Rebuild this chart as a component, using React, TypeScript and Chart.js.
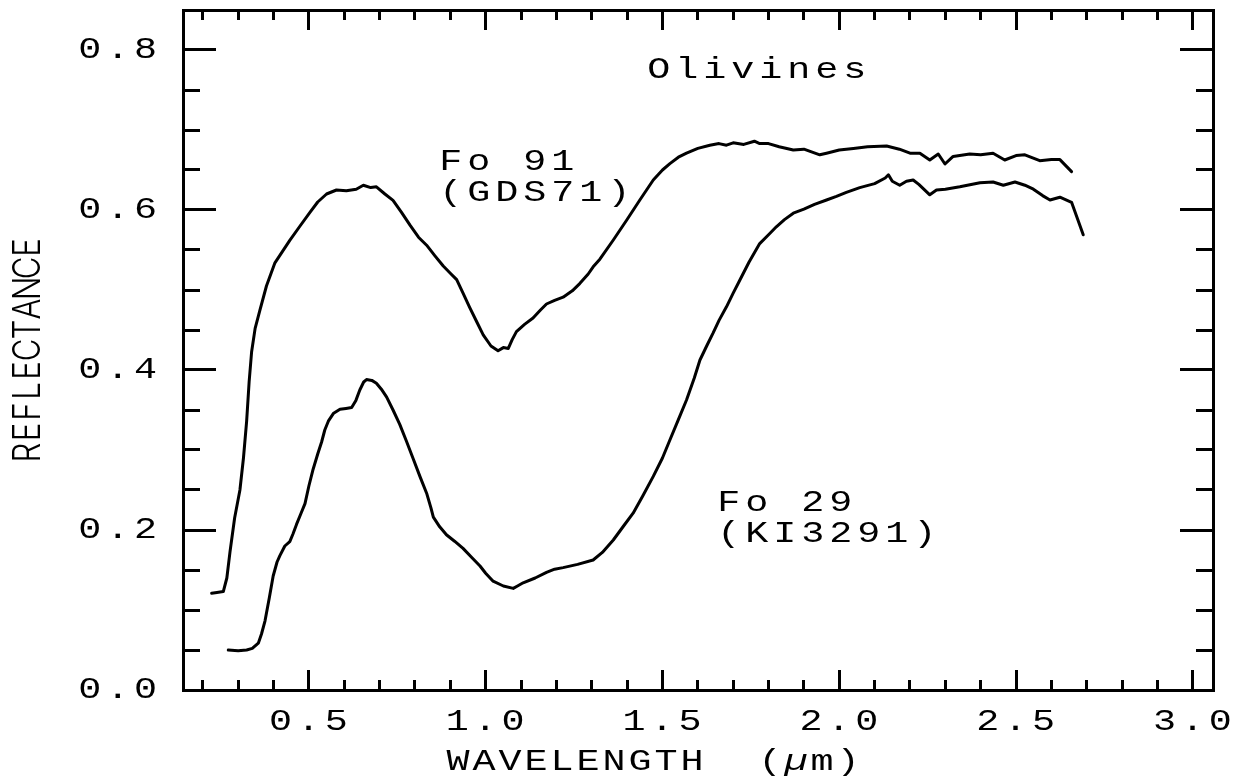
import React, { useEffect, useRef } from 'react';
import { Chart, registerables } from 'chart.js';

Chart.register(...registerables);

// ---- Data ----
const FO91_WAVELENGTH = [
  0.225, 0.240, 0.258, 0.268, 0.277, 0.290, 0.305, 0.315, 0.324, 0.331, 0.338, 0.348, 0.361, 0.380,
  0.404, 0.425, 0.446, 0.475, 0.503, 0.525, 0.550, 0.578, 0.606, 0.634, 0.654, 0.675, 0.691, 0.715,
  0.738, 0.762, 0.786, 0.810, 0.833, 0.856, 0.880, 0.900, 0.918, 0.935, 0.955, 0.975, 0.993, 1.015,
  1.035, 1.050, 1.064, 1.075, 1.087, 1.110, 1.134, 1.155, 1.172, 1.195, 1.219, 1.245, 1.266, 1.290,
  1.304, 1.323, 1.361, 1.399, 1.436, 1.474, 1.500, 1.521, 1.545, 1.568, 1.600, 1.634, 1.660, 1.681,
  1.700, 1.730, 1.760, 1.775, 1.800, 1.830, 1.870, 1.900, 1.945, 1.964, 2.000, 2.040, 2.080, 2.134,
  2.170, 2.200, 2.228, 2.256, 2.280, 2.299, 2.322, 2.369, 2.400, 2.435, 2.468, 2.500, 2.525, 2.567,
  2.600, 2.624, 2.657,
];
const FO91_REFLECTANCE = [
  0.121, 0.122, 0.123, 0.140, 0.173, 0.215, 0.250, 0.290, 0.336, 0.385, 0.4225, 0.452, 0.474, 0.505,
  0.534, 0.548, 0.562, 0.580, 0.597, 0.610, 0.620, 0.625, 0.624, 0.626, 0.631, 0.628, 0.629, 0.620,
  0.612, 0.597, 0.581, 0.566, 0.556, 0.543, 0.530, 0.521, 0.513, 0.497, 0.478, 0.460, 0.444, 0.430,
  0.424, 0.428, 0.427, 0.438, 0.448, 0.457, 0.465, 0.475, 0.4825, 0.487, 0.491, 0.499, 0.508, 0.520,
  0.529, 0.5385, 0.5625, 0.5875, 0.6125, 0.6375, 0.650, 0.658, 0.666, 0.671, 0.677, 0.681, 0.683, 0.681,
  0.684, 0.682, 0.686, 0.683, 0.683, 0.679, 0.675, 0.676, 0.669, 0.671, 0.675, 0.677, 0.679, 0.680,
  0.676, 0.671, 0.671, 0.6625, 0.670, 0.6575, 0.667, 0.670, 0.669, 0.671, 0.6625, 0.668, 0.669, 0.6616,
  0.663, 0.663, 0.648,
];

const FO29_WAVELENGTH = [
  0.272, 0.300, 0.324, 0.340, 0.357, 0.366, 0.376, 0.388, 0.399, 0.410, 0.418, 0.432, 0.446, 0.455,
  0.465, 0.477, 0.489, 0.500, 0.512, 0.525, 0.536, 0.545, 0.555, 0.570, 0.588, 0.605, 0.621, 0.633,
  0.644, 0.655, 0.663, 0.678, 0.691, 0.705, 0.720, 0.738, 0.757, 0.776, 0.795, 0.814, 0.833, 0.845,
  0.852, 0.870, 0.889, 0.912, 0.936, 0.960, 0.984, 1.000, 1.021, 1.050, 1.078, 1.090, 1.106, 1.140,
  1.172, 1.195, 1.219, 1.260, 1.304, 1.330, 1.361, 1.390, 1.417, 1.445, 1.474, 1.500, 1.521, 1.545,
  1.568, 1.590, 1.606, 1.625, 1.643, 1.660, 1.681, 1.700, 1.719, 1.745, 1.775, 1.800, 1.822, 1.845,
  1.870, 1.900, 1.930, 1.964, 1.992, 2.020, 2.058, 2.100, 2.130, 2.139, 2.150, 2.171, 2.190, 2.209,
  2.225, 2.256, 2.275, 2.300, 2.341, 2.398, 2.435, 2.464, 2.497, 2.525, 2.549, 2.575, 2.596, 2.624,
  2.657, 2.690,
];
const FO29_REFLECTANCE = [
  0.050, 0.049, 0.050, 0.052, 0.0585, 0.070, 0.0865, 0.115, 0.1425, 0.160, 0.168, 0.180, 0.1855, 0.195,
  0.207, 0.220, 0.233, 0.255, 0.276, 0.295, 0.310, 0.325, 0.336, 0.346, 0.351, 0.352, 0.353, 0.362,
  0.375, 0.385, 0.388, 0.387, 0.3835, 0.376, 0.366, 0.350, 0.332, 0.311, 0.289, 0.267, 0.246, 0.228,
  0.216, 0.204, 0.194, 0.186, 0.177, 0.166, 0.155, 0.146, 0.136, 0.130, 0.127, 0.130, 0.134, 0.140,
  0.147, 0.151, 0.153, 0.157, 0.1625, 0.172, 0.1875, 0.205, 0.221, 0.243, 0.267, 0.290, 0.3125, 0.338,
  0.3625, 0.390, 0.4125, 0.430, 0.446, 0.462, 0.479, 0.496, 0.5125, 0.535, 0.558, 0.569, 0.579, 0.588,
  0.596, 0.601, 0.607, 0.6125, 0.617, 0.622, 0.628, 0.633, 0.640, 0.644, 0.636, 0.631, 0.636, 0.6375,
  0.632, 0.619, 0.625, 0.626, 0.629, 0.634, 0.635, 0.631, 0.635, 0.631, 0.626, 0.618, 0.6125, 0.616,
  0.6096, 0.569,
];

const X_MIN = 0.144;
const X_MAX = 3.057;
const Y_MIN = 0;
const Y_MAX = 0.85;
const X_MAJOR_TICKS = [0.5, 1.0, 1.5, 2.0, 2.5, 3.0];
const X_MINOR_TICKS = [
  0.2, 0.3, 0.4, 0.5, 0.6, 0.7, 0.8, 0.9, 1.0, 1.1, 1.2, 1.3, 1.4, 1.5, 1.6, 1.7, 1.8, 1.9, 2.0,
  2.1, 2.2, 2.3, 2.4, 2.5, 2.6, 2.7, 2.8, 2.9, 3.0,
];
const Y_MAJOR_TICKS = [0.0, 0.2, 0.4, 0.6, 0.8];
const Y_MINOR_TICKS = [
  0.05, 0.1, 0.15, 0.2, 0.25, 0.3, 0.35, 0.4, 0.45, 0.5, 0.55, 0.6, 0.65, 0.7, 0.75, 0.8,
];

const X_TITLE = 'WAVELENGTH  (µm)';
const Y_TITLE = 'REFLECTANCE';
const ANNOTATION_TEXTS = ['Olivines', 'Fo 91', '(GDS71)', 'Fo 29', '(KI3291)'];
const ANNOTATION_X = [1.45, 0.862, 0.862, 1.648, 1.648];
const ANNOTATION_Y = [0.775, 0.66, 0.621, 0.234, 0.195];

// ---- Styling ----
const FONT_FAMILY = "'Liberation Mono', 'DejaVu Sans Mono', monospace";
const TITLE_FONT_FAMILY = "Inter, 'DejaVu Sans', sans-serif";
const TICK_FONT_SIZE = 30;
const TEXT_STRETCH = 1.28;
const TICK_LETTER_SPACING = 3.8;
const INK = '#000';

const origFillText = CanvasRenderingContext2D.prototype.fillText;

function drawCells(
  ctx: CanvasRenderingContext2D,
  text: string,
  left: number,
  cy: number,
  advance: number,
  font: string,
  stretch: number,
  italicChars = ''
) {
  for (let i = 0; i < text.length; i++) {
    const ch = text[i];
    if (ch === ' ') continue;
    ctx.save();
    ctx.font = `${italicChars.includes(ch) ? 'italic ' : ''}${font}`;
    ctx.translate(left + (i + 0.5) * advance, cy);
    ctx.scale(stretch, 1);
    origFillText.call(ctx, ch, 0, 0);
    ctx.restore();
  }
}

const textPlugin = {
  id: 'olivineText',
  beforeDraw(chart: any) {
    const ctx: any = chart.ctx;
    ctx.letterSpacing = TICK_LETTER_SPACING + 'px';
    if (!ctx.__stretched) {
      ctx.__stretched = true;
      ctx.fillText = function (text: string, x: number, y: number, maxWidth?: number) {
        ctx.save();
        ctx.translate(x, y);
        ctx.scale(TEXT_STRETCH, 1);
        if (maxWidth === undefined || maxWidth === null) origFillText.call(ctx, text, 0, 0);
        else origFillText.call(ctx, text, 0, 0, maxWidth / TEXT_STRETCH);
        ctx.restore();
      };
    }
  },
  afterDraw(chart: any) {
    const ctx: CanvasRenderingContext2D = chart.ctx;
    const xs = chart.scales.x;
    const ys = chart.scales.y;
    const monoFont = `${TICK_FONT_SIZE}px ${FONT_FAMILY}`;
    ctx.save();
    (ctx as any).letterSpacing = '0px';
    ctx.fillStyle = INK;
    ctx.textAlign = 'center';
    ctx.textBaseline = 'middle';

    // annotations (anchored in data coordinates)
    for (let i = 0; i < ANNOTATION_TEXTS.length; i++) {
      drawCells(
        ctx,
        ANNOTATION_TEXTS[i],
        xs.getPixelForValue(ANNOTATION_X[i]),
        ys.getPixelForValue(ANNOTATION_Y[i]),
        28,
        monoFont,
        TEXT_STRETCH
      );
    }

    // x-axis title
    drawCells(ctx, X_TITLE, 445, 762, 26, monoFont, TEXT_STRETCH, 'µ');

    // y-axis title (rotated)
    ctx.save();
    ctx.translate(29, (chart.chartArea.top + chart.chartArea.bottom) / 2);
    ctx.rotate(-Math.PI / 2);
    const adv = 20.5;
    const start = (-Y_TITLE.length * adv) / 2;
    drawCells(ctx, Y_TITLE, start, 0, adv, `300 38px ${TITLE_FONT_FAMILY}`, 0.82);
    ctx.restore();

    ctx.restore();
  },
};

function setTicks(values: number[]) {
  return (scale: any) => {
    scale.ticks = values.map((v) => ({ value: v }));
  };
}

function fitSize(prop: 'width' | 'height', size: number) {
  return (scale: any) => {
    scale[prop] = size;
    scale.paddingLeft = 0;
    scale.paddingRight = 0;
    scale.paddingTop = 0;
    scale.paddingBottom = 0;
  };
}

const tickFont = { family: FONT_FAMILY, size: TICK_FONT_SIZE, weight: 'normal' as const };

function axis(
  position: 'left' | 'right' | 'top' | 'bottom',
  min: number,
  max: number,
  values: number[],
  tickLength: number,
  size: number,
  weight: number,
  withBorder: boolean,
  labels: boolean,
  padding = 0,
  labelOffset = 0
) {
  const horizontal = position === 'top' || position === 'bottom';
  return {
    type: 'linear' as const,
    position,
    min,
    max,
    weight,
    afterBuildTicks: setTicks(values),
    afterFit: fitSize(horizontal ? 'height' : 'width', size),
    grid: {
      display: true,
      drawOnChartArea: false,
      drawTicks: true,
      tickLength,
      lineWidth: 3,
      color: INK,
    },
    border: { display: withBorder, width: 3, color: INK },
    ticks: {
      display: labels,
      autoSkip: false,
      maxRotation: 0,
      minRotation: 0,
      padding,
      labelOffset,
      color: INK,
      font: tickFont,
      callback: (v: any) => Number(v).toFixed(1),
    },
  };
}

export default function App() {
  const canvasRef = useRef<HTMLCanvasElement | null>(null);

  useEffect(() => {
    document.body.style.margin = '0';
    const canvas = canvasRef.current;
    if (!canvas) return;

    const chart = new Chart(canvas, {
      type: 'line',
      data: {
        datasets: [
          {
            label: 'Fo 91 (GDS71)',
            data: FO91_WAVELENGTH.map((x, i) => ({ x, y: FO91_REFLECTANCE[i] })),
            borderColor: INK,
            borderWidth: 3,
            pointRadius: 0,
            tension: 0,
            fill: false,
            borderJoinStyle: 'round',
            borderCapStyle: 'round',
          },
          {
            label: 'Fo 29 (KI3291)',
            data: FO29_WAVELENGTH.map((x, i) => ({ x, y: FO29_REFLECTANCE[i] })),
            borderColor: INK,
            borderWidth: 3,
            pointRadius: 0,
            tension: 0,
            fill: false,
            borderJoinStyle: 'round',
            borderCapStyle: 'round',
          },
        ],
      },
      options: {
        animation: false,
        responsive: false,
        devicePixelRatio: 1,
        layout: { padding: { left: 0, top: 10, right: 26, bottom: 0 } },
        plugins: {
          legend: { display: false },
          tooltip: { enabled: false },
          title: { display: false },
        },
        scales: {
          x: axis('bottom', X_MIN, X_MAX, X_MAJOR_TICKS, -20, 89, 10, true, true, 34, 2),
          xMinor: axis('bottom', X_MIN, X_MAX, X_MINOR_TICKS, -10, 0, 0, false, false),
          xTop: axis('top', X_MIN, X_MAX, X_MAJOR_TICKS, -20, 0, 10, true, false),
          xTopMinor: axis('top', X_MIN, X_MAX, X_MINOR_TICKS, -10, 0, 0, false, false),
          y: axis('left', Y_MIN, Y_MAX, Y_MAJOR_TICKS, -33, 183, 10, true, true, 54),
          yMinor: axis('left', Y_MIN, Y_MAX, Y_MINOR_TICKS, -17, 0, 0, false, false),
          yRight: axis('right', Y_MIN, Y_MAX, Y_MAJOR_TICKS, -33, 0, 10, true, false),
          yRightMinor: axis('right', Y_MIN, Y_MAX, Y_MINOR_TICKS, -17, 0, 0, false, false),
        } as any,
      },
      plugins: [textPlugin],
    });

    return () => {
      chart.destroy();
    };
  }, []);

  return (
    <div style={{ width: 1239, height: 779, background: '#fff' }}>
      <canvas ref={canvasRef} width={1239} height={779} style={{ display: 'block' }} />
    </div>
  );
}
